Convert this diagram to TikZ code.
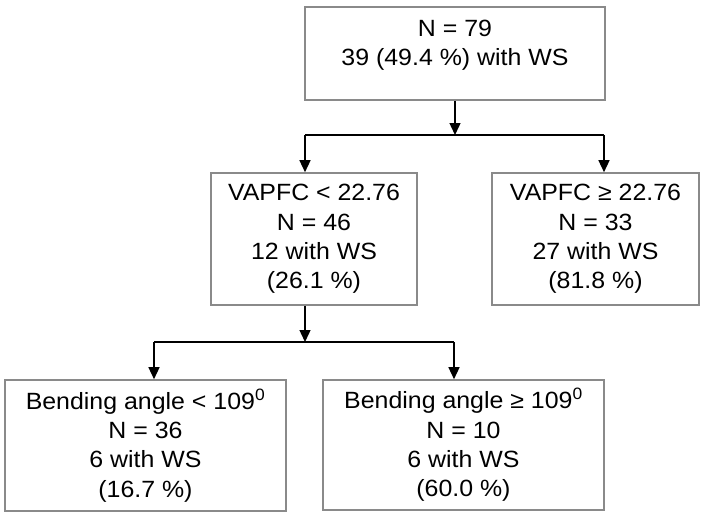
\documentclass[tikz,border=0pt]{standalone}
\usepackage{fontspec}
\setmainfont[FakeStretch=1.06]{Liberation Sans}
\usetikzlibrary{arrows.meta,calc}
\definecolor{boxgray}{HTML}{8A8A8A}
\tikzset{
  box/.style={draw=boxgray, line width=1.6pt, rectangle, inner sep=0pt, align=center,
    font=\fontsize{23.5}{29.3}\selectfont},
  txt/.style={inner sep=0pt, align=center, font=\fontsize{23.5}{29.3}\selectfont},
  arr/.style={line width=1.4pt, -{Triangle[length=12pt,width=11pt]}},
  ln/.style={line width=1.4pt}
}
\begin{document}
\begin{tikzpicture}[x=1pt,y=-1pt]
\useasboundingbox (0,0) rectangle (704,519);
\node[box, minimum width=300pt, minimum height=93pt] (top) at (455,53.5) {};
\node[txt] (toptext) at (455,45.5) {N = 79\\39 (49.4 \%) with WS};
\node[box, minimum width=206pt, minimum height=132pt] (lm) at (314,239)
  {VAPFC < 22.76\\N = 46\\12 with WS\\(26.1 \%)};
\node[box, minimum width=207pt, minimum height=132pt] (rm) at (595.5,239)
  {VAPFC ≥ 22.76\\N = 33\\27 with WS\\(81.8 \%)};
\node[box, minimum width=281pt, minimum height=131pt] (bl) at (145.5,445.5)
  {Bending angle < 109\textsuperscript{0}\\N = 36\\6 with WS\\(16.7 \%)};
\node[box, minimum width=281pt, minimum height=130pt] (br) at (463.5,445)
  {Bending angle ≥ 109\textsuperscript{0}\\N = 10\\6 with WS\\(60.0 \%)};
\coordinate (j1) at (455,135);
\coordinate (j1l) at (305,135);
\coordinate (j1r) at (604,135);
\draw[arr] (top.south) -- (j1);
\draw[ln] (j1l) -- (j1r);
\draw[arr] (j1l) -- (j1l |- lm.north);
\draw[arr] (j1r) -- (j1r |- rm.north);
\coordinate (j2s) at (305,305);
\coordinate (j2) at (305,342);
\coordinate (j2l) at (154,342);
\coordinate (j2r) at (454,342);
\draw[arr] (j2s |- lm.south) -- (j2);
\draw[ln] (j2l) -- (j2r);
\draw[arr] (j2l) -- (j2l |- bl.north);
\draw[arr] (j2r) -- (j2r |- br.north);
\end{tikzpicture}
\end{document}
